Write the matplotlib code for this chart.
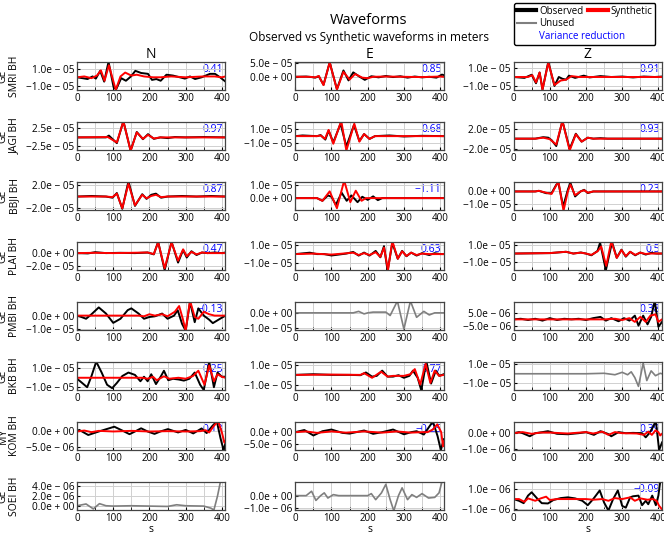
import numpy as np
import matplotlib
matplotlib.use("Agg")
import matplotlib.pyplot as plt
from matplotlib.lines import Line2D
from matplotlib.ticker import FuncFormatter, MultipleLocator

plt.rcParams['font.family'] = ['Open Sans', 'DejaVu Sans']

# amplitudes are in micro-metres (scaled to metres when drawn)
SCALE = 1e-6

STATIONS = ["GE\nSMRI BH", "GE\nJAGI BH", "GE\nBBJI BH", "GE\nPLAI BH",
            "GE\nPMBI BH", "GE\nBKB BH", "MY\nKOM BH", "GE\nSOEI BH"]
COMPONENTS = ["N", "E", "Z"]

VR_N = [0.41, 0.97, 0.87, 0.47, -0.13, 0.25, 0.13, None]
VR_E = [0.85, 0.68, -1.11, 0.63, None, 0.77, -0.25, None]
VR_Z = [0.91, 0.93, 0.23, 0.5, 0.38, None, 0.39, -0.09]

YLIM_N = [(-14.7, 17.8), (-35, 43), (-23, 25), (-26.7, 17.7), (-10.5, 10), (-12.9, 16.7), (-5.8, 3.0), (-0.86, 4.86)]
YTICKS_N = [[-10, 10], [-25, 25], [-20, 20], [-20, 0], [-10, 0], [-10, 10], [-5, 0], [0, 2, 4]]
YLIM_E = [(-47.6, 53.7), (-20, 20.5), (-8.8, 12), (-17, 13), (-11.6, 7.4), (-15.6, 13.4), (-7.5, 4.3), (-1.14, 1.09)]
YTICKS_E = [[0, 50], [-10, 10], [0, 10], [-10, 10], [-10, 0], [-10, 10], [-5, 0], [-1, 0]]
YLIM_Z = [(-14.5, 16.8), (-23, 34), (-14.8, 7.6), (-18.7, 13.2), (-8.5, 14), (-16.7, 12.2), (-1.09, 0.73), (-1.14, 1.79)]
YTICKS_Z = [[-10, 10], [-20, 20], [-10, 0], [-10, 10], [-5, 5], [-10, 10], [-1, 0], [-1, 1]]

# waveforms as (time s, amplitude) pairs
SMRI_N_OBS = [(0,0),(15,-1),(29,-2),(43,1),(52,-1.5),(64,7.5),(75,-5),(87,18),(101,-11.5),(108,-14),(122,-1),(135,-4),(149,1),(161,7.5),(177,5),(196,4),(207,-3),(219,-2),(231,-4),(247,3),(265,2),(284,0),(298,-1.5),(312,1),(326,-2),(344,0),(367,4),(381,4),(395,0),(410,-5)]
SMRI_N_SYN = [(0,0),(20,1),(40,-1),(55,2),(66,8),(76,-4),(88,14),(107,-14.5),(120,1),(133,5.5),(150,2),(165,3),(185,1),(210,0),(230,0),(260,1),(300,0),(350,1),(380,1),(400,0),(410,1)]
SMRI_E_OBS = [(0,0),(30,1),(45,-1),(55,-3),(65,2),(78,-29),(95,52),(115,-45),(133,23),(147,-13),(160,16),(178,0),(192,-11),(210,2),(230,-2),(250,3),(270,-1),(290,2),(310,-3),(330,1),(350,-2),(370,0),(390,-3),(405,8),(410,6)]
SMRI_E_SYN = [(0,0),(40,0),(55,-2),(65,3),(78,-30),(95,52),(115,-46),(133,18),(150,-10),(165,10),(185,-3),(200,-5),(215,0),(250,1),(300,0),(350,-1),(400,1),(410,0)]
SMRI_Z_OBS = [(0,0),(30,-1),(50,2.5),(62,-7),(72,5),(80,-14),(96,17),(113,-10),(125,0),(135,-2),(145,-3),(153,1.5),(170,-1),(194,1.5),(210,-0.5),(240,1),(270,0),(300,0.5),(330,-0.5),(360,0.5),(390,0),(410,0.5)]
SMRI_Z_SYN = [(0,0),(40,0),(52,2),(62,-6),(72,5),(80,-14),(96,16),(113,-9),(130,-4),(145,-3),(160,1),(180,0),(410,0)]

JAGI_N_OBS = [(0,0),(80,0),(88,5),(110,-16),(128,45),(148,-37),(165,15),(182,-5),(196,9),(212,-4),(230,0),(250,-2),(270,1),(300,0),(350,1),(410,0)]
JAGI_N_SYN = [(0,0),(85,1),(110,-14),(128,45),(148,-37),(165,14),(182,-4),(196,7),(212,-3),(230,0),(410,0)]
JAGI_E_OBS = [(0,0),(20,1),(60,0),(70,1.5),(83,-5),(92,8),(105,-9),(125,18),(141,-15),(162,16),(177,-7),(190,3),(205,-4),(220,0),(260,1),(300,-0.5),(350,0.5),(410,0)]
JAGI_E_SYN = [(0,0),(60,0),(70,1),(82,-4),(92,9),(105,-11),(127,22),(141,-21),(163,18),(177,-8),(190,3),(205,-4),(220,0),(410,0)]
JAGI_Z_OBS = [(0,0),(60,0),(82,3),(96,2),(105,-3),(118,-15),(135,36),(155,-21),(172,10),(188,-6),(205,2),(220,0),(240,1),(260,0),(410,0)]
JAGI_Z_SYN = [(0,0),(60,0),(82,2),(100,-1),(118,-12),(135,36),(155,-24),(172,9),(188,-6),(205,2),(220,0),(410,0)]

BBJI_N_OBS = [(0,0),(40,1),(80,0),(98,-2),(110,6),(125,-21),(142,26),(160,-16),(180,4),(192,-4),(205,3),(218,5),(232,-2),(250,0),(290,1),(330,0),(370,1),(410,0)]
BBJI_N_SYN = [(0,0),(80,0),(98,-1),(110,5),(125,-20),(142,22),(160,-15),(180,3),(192,-3),(205,1),(218,3),(232,-1),(250,0),(410,0)]
BBJI_E_OBS = [(0,0),(60,0),(75,-2),(90,2),(100,1),(112,-5),(128,4),(142,-2),(155,2),(172,-3),(185,1),(200,-1.3),(215,1.3),(228,-1.5),(240,0),(410,0)]
BBJI_E_SYN = [(0,0),(60,0),(75,-2),(95,5),(115,-7.5),(135,13),(152,-3),(167,5.5),(183,-2),(195,0),(410,0)]
BBJI_Z_OBS = [(0,0),(60,0),(70,0.5),(90,-1.4),(105,-1.4),(118,5.4),(124,6.7),(137,-12),(150,1.4),(157,7),(170,-4),(185,0),(195,1.3),(205,-1.3),(220,0),(410,0)]
BBJI_Z_SYN = [(0,0),(60,0),(70,0.5),(90,-1),(105,-2),(124,8),(138,-15.5),(150,0),(157,5.5),(170,-3),(185,0),(195,1),(205,-1),(220,0),(410,0)]

PLAI_N_OBS = [(0,0),(30,-0.5),(50,1.5),(80,0),(120,0.5),(160,0),(195,1),(212,-2),(224,18),(242,-27),(261,18),(279,-15),(293,5),(303,-7),(316,3),(330,-3),(345,1),(360,0),(380,1),(400,0),(410,1)]
PLAI_N_SYN = [(0,0),(50,0.5),(100,0),(150,0.5),(195,1),(212,-1.5),(224,17),(242,-24),(261,17),(279,-12),(293,6),(303,-5),(316,2),(330,-2),(345,1),(360,0),(410,0)]
PLAI_E_OBS = [(0,0),(40,1.5),(60,0),(80,0),(100,-1.5),(140,0.5),(160,2.3),(175,-1.6),(190,1.6),(205,-1.6),(222,3.4),(235,-3.4),(245,8.5),(255,-18),(268,12),(283,-5),(295,3.4),(307,-2.3),(320,1.6),(335,-1.6),(350,1),(370,-1),(385,1),(400,0),(410,0)]
PLAI_E_SYN = [(0,0),(50,0.5),(100,-0.5),(160,1.5),(175,-1),(190,1),(205,-1),(222,2),(235,-3),(245,7),(256,-17),(268,14),(283,-5),(295,3),(307,-2),(320,1.5),(335,-1),(350,0.5),(370,0),(410,0)]
PLAI_Z_OBS = [(0,0),(100,0.5),(145,2),(165,0),(186,1.2),(200,0),(215,-2),(232,3),(239,12.4),(255,-19),(272,13),(285,-4.8),(298,4.4),(310,-3.6),(322,2),(336,-2),(350,1.2),(365,-1.2),(380,0.8),(395,0),(410,0)]
PLAI_Z_SYN = [(0,0),(100,0.5),(145,2),(165,0),(186,1),(200,0),(215,-1.5),(232,2.5),(242,8),(256,-14),(270,14),(285,-5),(298,4),(310,-3),(322,2),(336,-1.5),(350,1),(365,-0.5),(380,0),(410,0)]

PMBI_N_OBS = [(0,0),(12,-1),(25,-2.3),(40,1),(60,6),(80,1.5),(100,-5.3),(120,-2.3),(140,4),(150,5.3),(170,1.5),(185,-2.3),(200,-1),(215,-0.5),(235,1.5),(250,-2.3),(268,0),(278,4),(290,-6),(300,-11),(312,10),(325,-4.8),(335,5.3),(350,0),(365,-3),(375,-5.5),(395,-2.3),(410,0)]
PMBI_N_SYN = [(0,0),(170,0),(185,-0.5),(200,1),(215,0),(235,1),(250,-0.5),(270,2.8),(282,7),(292,-2.3),(300,-11),(312,11),(325,-1),(335,-2.3),(350,2.8),(365,1),(380,0),(410,0)]
PMBI_E_OBS = [(0,0),(160,0),(175,1),(190,-0.7),(200,0),(215,0.5),(250,0.5),(262,-1.8),(282,8),(300,-11),(318,8),(335,-3),(345,-1),(355,1),(370,-1.4),(385,0),(410,0)]
PMBI_Z_OBS = [(0,0),(20,0.5),(40,-0.5),(60,0.5),(80,-1),(100,1),(120,-0.5),(140,0.5),(160,0),(180,0.5),(200,-0.5),(220,1),(240,2),(255,-1),(270,1),(290,-1.5),(305,1),(320,-1),(335,3),(345,-5),(358,3),(370,-4),(380,2),(390,15),(400,-6),(410,-2)]
PMBI_Z_SYN = [(0,0),(250,0),(280,0.5),(300,-0.5),(320,1),(335,-2),(350,2),(365,-2),(378,3),(392,4),(400,-2),(410,0)]

BKB_N_OBS = [(0,-1),(12,-4.8),(28,-10),(40,1.8),(53,17),(68,5.5),(83,-7.4),(97,-11),(110,-5.5),(125,1.8),(142,5.5),(160,3),(175,-3.7),(185,1.1),(195,-3.7),(205,3.7),(218,-6.7),(232,1.8),(240,7.4),(252,-2.6),(265,-1.1),(280,-1.8),(295,-3),(310,-1.1),(325,5.5),(340,-7.4),(350,-13),(365,17),(378,-10),(388,5.5),(400,1.1),(410,1.1)]
BKB_N_SYN = [(0,0),(180,0),(195,-1),(210,1),(220,-2.6),(240,1.5),(255,-1),(280,0),(300,-1),(320,1.8),(335,7.4),(352,-7.4),(365,13),(378,-3.7),(388,3.7),(400,1),(410,0)]
BKB_E_OBS = [(0,0),(50,0.7),(100,0),(150,0),(180,-0.3),(195,2.5),(212,-1.8),(225,-1),(240,4.4),(255,-1.8),(270,-1.8),(285,-0.3),(300,-3),(315,-1),(325,4.4),(338,-3),(348,-16),(362,14),(375,-9),(388,4.4),(398,-1),(410,0.7)]
BKB_E_SYN = [(0,0),(100,0.3),(180,0),(190,1.8),(212,-3),(237,3.3),(255,-1.8),(270,-1),(300,-1),(318,0.7),(330,6),(345,-10),(360,11.6),(373,-8.4),(385,4.4),(397,-1),(410,0)]
BKB_Z_OBS = [(0,0),(200,0),(250,0.5),(280,-1),(300,1.5),(315,-1),(325,2),(335,-4),(345,-13),(358,11),(368,-7),(380,3),(392,-2),(405,0.5),(410,0)]

KOM_N_OBS = [(0,0),(6,0.5),(31,-1.1),(60,0),(103,1.5),(125,0.3),(145,-0.85),(160,0),(177,1),(195,0),(214,-0.75),(230,0),(251,0.75),(279,-0.3),(300,0.5),(321,-0.6),(344,0.95),(358,-0.5),(372,1.5),(386,3.2),(396,-2),(405,-6),(410,-3.5)]
KOM_N_SYN = [(0,0),(20,0.3),(40,-0.2),(60,0.2),(100,0),(150,0.2),(200,0),(250,0.1),(300,0),(340,0.1),(355,0.4),(365,-0.3),(378,1.8),(390,3.2),(400,-0.3),(407,-3.5),(410,-3)]
KOM_E_OBS = [(0,0),(25,0.9),(50,-1.4),(75,0.4),(100,1.1),(130,-0.3),(150,-0.6),(190,0.7),(215,-0.7),(240,0),(270,1.1),(300,-0.9),(320,0),(335,0.4),(355,-1),(380,4.5),(393,-1.7),(402,-7.6),(410,-3)]
KOM_E_SYN = [(0,0),(30,0.3),(60,-0.3),(100,0.3),(140,-0.2),(190,0.3),(240,-0.2),(280,0.3),(320,-0.2),(350,0),(365,0),(380,1.1),(392,3.3),(403,0),(408,-6),(410,-3.9)]
KOM_Z_OBS = [(0,0),(15,0.07),(25,0),(45,-0.2),(60,0),(80,0.07),(95,0.13),(120,-0.04),(150,-0.07),(180,0),(200,0.07),(222,-0.11),(240,0.13),(260,-0.04),(270,-0.2),(290,0.07),(310,0),(330,0.02),(355,0),(365,-0.27),(375,0),(385,0.4),(393,0.8),(402,-1.1),(410,-0.6)]
KOM_Z_SYN = [(0,0),(25,0.07),(50,-0.04),(75,0.04),(100,0.04),(150,-0.02),(200,0.07),(220,-0.02),(245,0.1),(262,-0.11),(280,0.07),(300,0),(340,-0.02),(360,-0.11),(372,0.1),(382,-0.11),(392,0.18),(400,0.07),(405,-0.15),(410,-0.04)]

SOEI_N_OBS = [(0,0),(25,0.36),(45,-0.64),(62,0.43),(80,0),(100,-0.07),(150,0),(200,-0.07),(250,-0.14),(275,0.2),(300,0),(350,-0.07),(370,-0.5),(378,-0.86),(388,2),(396,4.9),(402,6),(410,6)]
SOEI_E_OBS = [(0,0),(30,0),(45,0.35),(57,-0.38),(70,0),(80,0.22),(90,-0.19),(105,0.08),(120,0),(200,0),(210,0.16),(222,-0.32),(238,0.22),(250,0.9),(262,-0.32),(272,-1.2),(285,0),(295,0.62),(310,-0.32),(322,0.08),(335,-0.14),(350,0.16),(368,-0.19),(385,-0.14),(397,0.22),(405,1.1),(410,1.3)]
SOEI_Z_OBS = [(0,0),(15,-0.18),(28,-0.43),(40,0.36),(50,0.71),(65,0.07),(78,-0.43),(95,-0.46),(110,-0.1),(130,0.1),(150,0.18),(170,0.07),(190,-0.18),(205,-0.64),(220,0),(238,0.9),(250,-0.36),(262,-1.2),(275,0),(288,0.9),(300,-0.71),(310,-0.9),(322,0.18),(330,0.29),(345,0.36),(355,-0.64),(365,-0.18),(372,-0.54),(383,0.36),(393,-0.64),(400,0.36),(405,1.8),(410,2.1)]
SOEI_Z_SYN = [(0,0),(15,0),(30,-0.29),(40,0.07),(60,-0.18),(75,0.07),(90,0.25),(100,-0.1),(120,0),(200,0),(220,-0.07),(245,0),(262,-0.18),(280,0.1),(300,0),(322,0.18),(335,-0.18),(350,0.07),(370,-0.07),(385,0),(395,-0.18),(402,-0.71),(410,-1.07)]

# (observed, synthetic) per station/component; synthetic None means unused
PANELS = [
    [(SMRI_N_OBS, SMRI_N_SYN), (SMRI_E_OBS, SMRI_E_SYN), (SMRI_Z_OBS, SMRI_Z_SYN)],
    [(JAGI_N_OBS, JAGI_N_SYN), (JAGI_E_OBS, JAGI_E_SYN), (JAGI_Z_OBS, JAGI_Z_SYN)],
    [(BBJI_N_OBS, BBJI_N_SYN), (BBJI_E_OBS, BBJI_E_SYN), (BBJI_Z_OBS, BBJI_Z_SYN)],
    [(PLAI_N_OBS, PLAI_N_SYN), (PLAI_E_OBS, PLAI_E_SYN), (PLAI_Z_OBS, PLAI_Z_SYN)],
    [(PMBI_N_OBS, PMBI_N_SYN), (PMBI_E_OBS, None), (PMBI_Z_OBS, PMBI_Z_SYN)],
    [(BKB_N_OBS, BKB_N_SYN), (BKB_E_OBS, BKB_E_SYN), (BKB_Z_OBS, None)],
    [(KOM_N_OBS, KOM_N_SYN), (KOM_E_OBS, KOM_E_SYN), (KOM_Z_OBS, KOM_Z_SYN)],
    [(SOEI_N_OBS, None), (SOEI_E_OBS, None), (SOEI_Z_OBS, SOEI_Z_SYN)],
]
YLIMS = [YLIM_N, YLIM_E, YLIM_Z]
YTICKS = [YTICKS_N, YTICKS_E, YTICKS_Z]
VRS = [VR_N, VR_E, VR_Z]


def unpack(knots):
    t, v = zip(*knots)
    return np.array(t, dtype=float), np.array(v, dtype=float) * SCALE


def sci_label(v, pos):
    s = '%.1e' % v
    sign = ''
    if s.startswith('-'):
        sign, s = '\u2212', s[1:]
    mant, ex = s.split('e')
    return sign + mant + 'e ' + ex[0].replace('-', '\u2212') + ' ' + ex[1:]


fig = plt.figure(figsize=(6.64, 5.34), dpi=100)
gs = fig.add_gridspec(8, 3, left=0.116, right=0.997, top=0.884, bottom=0.045,
                      hspace=1.14, wspace=0.47)

for r in range(8):
    for c in range(3):
        ax = fig.add_subplot(gs[r, c])
        obs, syn = PANELS[r][c]
        t, v = unpack(obs)
        if syn is None:
            ax.plot(t, v, color='#7f7f7f', lw=1.2, zorder=2)
        else:
            ax.plot(t, v, color='black', lw=1.4, zorder=2)
            ts, vs = unpack(syn)
            ax.plot(ts, vs, color='red', lw=1.4, zorder=2.1)
        ax.set_xlim(0, 410)
        lo, hi = YLIMS[c][r]
        ax.set_ylim(lo * SCALE, hi * SCALE)
        ax.set_yticks([y * SCALE for y in YTICKS[c][r]])
        ax.yaxis.set_major_formatter(FuncFormatter(sci_label))
        ax.set_xticks([0, 100, 200, 300, 400])
        ax.xaxis.set_minor_locator(MultipleLocator(50))
        ax.grid(True, which='both', color='#d0d0d0', lw=0.7, zorder=0)
        ax.tick_params(axis='both', which='both', labelsize=7, direction='in',
                       length=2.5, pad=2)
        ax.tick_params(axis='y', labelsize=7.3)
        for sp in ax.spines.values():
            sp.set_color('#444444')
            sp.set_linewidth(0.9)
        vr = VRS[c][r]
        if vr is not None:
            ax.text(0.985, 0.93, str(vr).replace('-', '\u2212'), transform=ax.transAxes,
                    ha='right', va='top', color='blue', fontsize=7.5, zorder=1)
        if r == 0:
            ax.set_title(COMPONENTS[c], fontsize=10, pad=2)
        if c == 0:
            ax.text(-0.46, 0.5, STATIONS[r], transform=ax.transAxes, rotation=90,
                    ha='center', va='center', fontsize=7.5, linespacing=1.0)
        if r == 7:
            ax.set_xlabel('s', fontsize=7.5, labelpad=0)

fig.text(0.555, 0.962, 'Waveforms', ha='center', va='center', fontsize=10.5)
fig.text(0.555, 0.929, 'Observed vs Synthetic waveforms in meters', ha='center',
         va='center', fontsize=8.5)

# legend: third row of the first column holds the blue "Variance reduction" note
handles = [Line2D([], [], color='black', lw=3),
           Line2D([], [], color='#7f7f7f', lw=1.5),
           Line2D([], [], color='none'),
           Line2D([], [], color='red', lw=3),
           Line2D([], [], color='none'),
           Line2D([], [], color='none')]
labels = ['Observed', 'Unused', ' ', 'Synthetic', ' ', ' ']
leg = fig.legend(handles, labels, ncol=2, loc='upper left',
                 bbox_to_anchor=(512 / 664, 1 - 1 / 534), fontsize=7,
                 handlelength=2.0, handletextpad=0.3, columnspacing=0.5,
                 labelspacing=0.15, borderpad=0.3, borderaxespad=0.2,
                 frameon=True, fancybox=True, framealpha=1.0)
leg.get_frame().set_edgecolor('black')
leg.get_frame().set_linewidth(1.0)

fig.canvas.draw()
inv = fig.transFigure.inverted()
x0, _ = inv.transform(leg.get_texts()[1].get_window_extent().p0)
_, y2 = inv.transform(leg.get_texts()[2].get_window_extent().p0)
fig.text(x0, y2, 'Variance reduction', color='blue', fontsize=7,
         ha='left', va='bottom', zorder=10)

fig.savefig('out.png', dpi=100)
